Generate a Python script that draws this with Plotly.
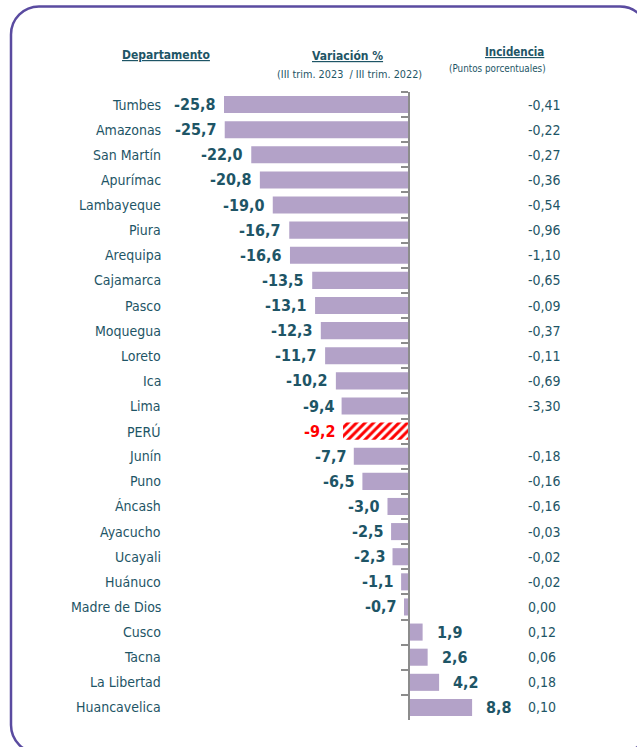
import plotly.graph_objects as go

departamentos = ["Tumbes", "Amazonas", "San Martín", "Apurímac", "Lambayeque", "Piura",
                 "Arequipa", "Cajamarca", "Pasco", "Moquegua", "Loreto", "Ica", "Lima",
                 "PERÚ", "Junín", "Puno", "Áncash", "Ayacucho", "Ucayali", "Huánuco",
                 "Madre de Dios", "Cusco", "Tacna", "La Libertad", "Huancavelica"]
variacion = [-25.8, -25.7, -22.0, -20.8, -19.0, -16.7, -16.6, -13.5, -13.1, -12.3, -11.7,
             -10.2, -9.4, -9.2, -7.7, -6.5, -3.0, -2.5, -2.3, -1.1, -0.7, 1.9, 2.6, 4.2, 8.8]
incidencia = ["-0,41", "-0,22", "-0,27", "-0,36", "-0,54", "-0,96", "-1,10", "-0,65", "-0,09",
              "-0,37", "-0,11", "-0,69", "-3,30", "", "-0,18", "-0,16", "-0,16", "-0,03",
              "-0,02", "-0,02", "0,00", "0,12", "0,06", "0,18", "0,10"]

W, H = 637, 747
TEAL = "#1E5566"
BAR = "#B3A2C8"
RED = "#FF0000"
FONT = "DejaVu Sans Condensed, Liberation Sans Narrow, Arial Narrow, sans-serif"

def fmt(v):
    return f"{v:.1f}".replace(".", ",")

is_peru = [d == "PERÚ" for d in departamentos]
reg_y = [d for d, p in zip(departamentos, is_peru) if not p]
reg_x = [v for v, p in zip(variacion, is_peru) if not p]
per_y = [d for d, p in zip(departamentos, is_peru) if p]
per_x = [v for v, p in zip(variacion, is_peru) if p]

fig = go.Figure()
fig.add_trace(go.Bar(
    x=reg_x, y=reg_y, orientation="h", width=0.68,
    marker=dict(color=BAR, line=dict(width=0)),
    hoverinfo="skip", showlegend=False,
))
fig.add_trace(go.Bar(
    x=per_x, y=per_y, orientation="h", width=0.68,
    marker=dict(color="white", line=dict(width=0),
                pattern=dict(shape="/", fgcolor=RED, bgcolor="white", size=6, solidity=0.5,
                             fillmode="replace")),
    hoverinfo="skip", showlegend=False,
))

ann = []
for d, v, inc, p in zip(departamentos, variacion, incidencia, is_peru):
    ann.append(dict(x=163 / W, xref="paper", y=d, yref="y", text=d, showarrow=False,
                    xanchor="right", font=dict(size=14, color=TEAL, family=FONT)))
    if v < 0:
        ann.append(dict(x=v, y=d, xref="x", yref="y", text=f"<b>{fmt(v)}</b>", showarrow=False,
                        xanchor="right", xshift=-6,
                        font=dict(size=16, color=RED if p else TEAL, family=FONT)))
    else:
        ann.append(dict(x=v, y=d, xref="x", yref="y", text=f"<b>{fmt(v)}</b>", showarrow=False,
                        xanchor="left", xshift=12,
                        font=dict(size=16, color=TEAL, family=FONT)))
    if inc:
        ann.append(dict(x=526 / W, xref="paper", y=d, yref="y", text=inc, showarrow=False,
                        xanchor="left", font=dict(size=14, color=TEAL, family=FONT)))

ann += [
    dict(x=120 / W, y=1 - 46 / H, xref="paper", yref="paper", text="<b><u>Departamento</u></b>",
         showarrow=False, font=dict(size=12, color=TEAL, family=FONT)),
    dict(x=347 / W, y=1 - 47 / H, xref="paper", yref="paper", text="<b><u>Variación %</u></b>",
         showarrow=False, font=dict(size=12, color=TEAL, family=FONT)),
    dict(x=349 / W, y=1 - 66 / H, xref="paper", yref="paper", text="(III trim. 2023  / III trim. 2022)",
         showarrow=False, font=dict(size=10.8, color=TEAL, family=FONT)),
    dict(x=546 / W, y=1 - 43 / H, xref="paper", yref="paper", text="<b><u>Incidencia</u></b>",
         showarrow=False, font=dict(size=11.5, color=TEAL, family=FONT)),
    dict(x=548 / W, y=1 - 61 / H, xref="paper", yref="paper", text="(Puntos porcentuales)",
         showarrow=False, font=dict(size=9.8, color=TEAL, family=FONT)),
]

def P(px, py):
    return f"{px / W:.5f},{1 - py / H:.5f}"
x0, y0, x1, y1, r = 11, 6.5, 648, 753, 28
k = 0.5523 * r
frame = (f"M {P(x0, y1 - r)} L {P(x0, y0 + r)} "
         f"C {P(x0, y0 + r - k)} {P(x0 + r - k, y0)} {P(x0 + r, y0)} "
         f"L {P(x1 - r, y0)} "
         f"C {P(x1 - r + k, y0)} {P(x1, y0 + r - k)} {P(x1, y0 + r)} "
         f"L {P(x1, y1 - r)} "
         f"C {P(x1, y1 - r + k)} {P(x1 - r + k, y1)} {P(x1 - r, y1)} "
         f"L {P(x0 + r, y1)} "
         f"C {P(x0 + r - k, y1)} {P(x0, y1 - r + k)} {P(x0, y1 - r)} Z")

scale = 7.17
zero_px = 409
fig.update_layout(
    width=W, height=H, margin=dict(l=0, r=0, t=0, b=0),
    paper_bgcolor="white", plot_bgcolor="rgba(0,0,0,0)",
    barmode="overlay",
    xaxis=dict(range=[-zero_px / scale, (W - zero_px) / scale], domain=[0, 1],
               showgrid=False, zeroline=False, showticklabels=False, showline=False, ticks=""),
    yaxis=dict(domain=[1 - 720 / H, 1 - 92 / H], range=[24.5, -0.5], type="category",
               categoryorder="array", categoryarray=departamentos,
               anchor="free", position=zero_px / W, side="left",
               showgrid=False, zeroline=False, showticklabels=False,
               showline=True, linecolor="#8C8C8C", linewidth=1.5,
               ticks="outside", tickson="boundaries", ticklen=7, tickcolor="#8C8C8C", tickwidth=1.5),
    annotations=ann,
    shapes=[dict(type="path", xref="paper", yref="paper", path=frame,
                 line=dict(color="#5A4BA0", width=2.5), fillcolor="rgba(0,0,0,0)")],
)

fig.write_html("out.html", post_script="document.body.style.margin='0';",
               config={"displayModeBar": False})
